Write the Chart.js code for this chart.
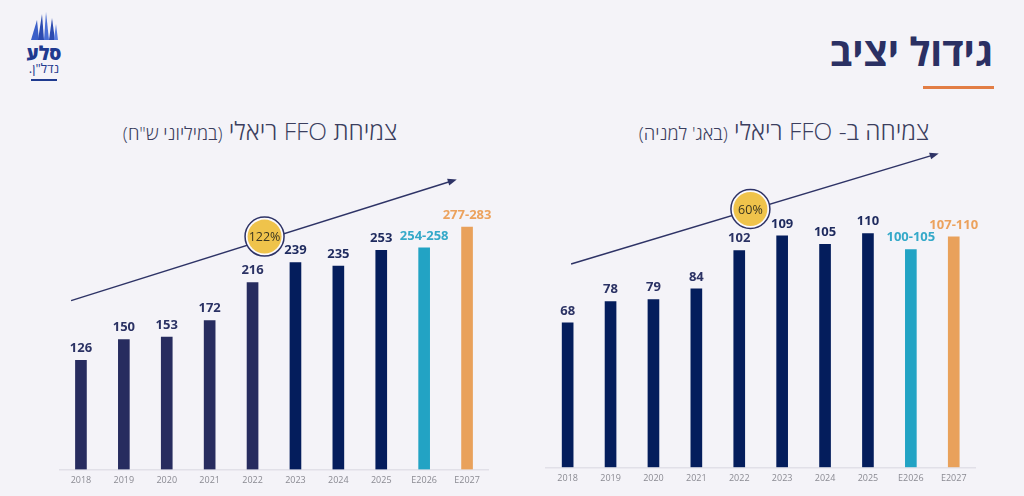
<!DOCTYPE html>
<html lang="he">
<head>
<meta charset="utf-8">
<title>גידול יציב</title>
<script src="https://cdn.jsdelivr.net/npm/chart.js@4.4.1/dist/chart.umd.min.js"></script>
<style>
  html, body { margin: 0; padding: 0; }
  body {
    width: 1024px; height: 496px; overflow: hidden; position: relative;
    background: #f4f3f8;
    font-family: "Open Sans", "Liberation Sans", "DejaVu Sans", sans-serif;
  }
  .title {
    position: absolute; right: 31px; top: 24px;
    font-size: 39px; font-weight: 700; color: #2b3063; direction: rtl;
  }
  .underline {
    position: absolute; left: 923px; top: 86px; width: 71px; height: 3px;
    background: #e27d45;
  }
  .subtitle {
    position: absolute; top: 114px; direction: rtl; white-space: nowrap;
    font-size: 24.5px; font-weight: 300; color: #3b3e5e; transform: translateX(-50%);
  }
  .subtitle small { font-size: 18.5px; }
  .box { position: absolute; top: 140px; height: 356px; }
  .logo { position: absolute; left: 24px; top: 10px; width: 40px; text-align: center; direction: rtl; color: #1f3a8f; }
  .logo .big { font-size: 19px; font-weight: 800; line-height: 16px; }
  .logo .small { font-size: 13px; line-height: 15px; }
</style>
</head>
<body>
<div class="logo">
  <svg width="30" height="30" viewBox="0 0 30 30">
    <polygon points="2,30 8,10 10,30" fill="#3a5fc8"/>
    <polygon points="9,30 13,4 15,30" fill="#2c4bb0"/>
    <polygon points="15,30 17,2 20,30" fill="#4a6fd6"/>
    <polygon points="20,30 23,8 26,30" fill="#2c4bb0"/>
    <polygon points="25,30 27,14 29,30" fill="#5b7ee0"/>
  </svg>
  <div class="big">סלע</div>
  <div class="small">נדל"ן.</div>
  <div style="height:2px;width:26px;margin:3px auto 0;background:#1f3a8f;"></div>
</div>
<div class="title">גידול יציב</div>
<div class="underline"></div>
<div class="subtitle" style="left:260px;">צמיחת FFO ריאלי <small>(במיליוני ש"ח)</small></div>
<div class="subtitle" style="left:784px;">צמיחה ב- FFO ריאלי <small>(באג' למניה)</small></div>

<div class="box" style="left:40px;width:470px;"><canvas id="ffo-total"></canvas></div>
<div class="box" style="left:520px;width:480px;"><canvas id="ffo-share"></canvas></div>

<script>
const years = ['2018', '2019', '2020', '2021', '2022', '2023', '2024', '2025', 'E2026', 'E2027'];

// FFO total (NIS millions); forecast bars at range midpoints
const totalValues = [126, 150, 153, 172, 216, 239, 235, 253, 256, 280];
const totalLabels = ['126', '150', '153', '172', '216', '239', '235', '253', '254-258', '277-283'];

// FFO per share (agorot)
const shareValues = [68, 78, 79, 84, 102, 109, 105, 110, 102.5, 108.5];
const shareLabels = ['68', '78', '79', '84', '102', '109', '105', '110', '100-105', '107-110'];

const NAVY = '#041d5c';
const NAVY_OLD = '#272c5f';
const CYAN = '#22a3c4';
const ORANGE = '#e9a15b';

const totalColors = [NAVY_OLD, NAVY_OLD, NAVY_OLD, NAVY_OLD, NAVY_OLD, NAVY, NAVY, NAVY, CYAN, ORANGE];
const shareColors = [NAVY, NAVY, NAVY, NAVY, NAVY, NAVY, NAVY, NAVY, CYAN, ORANGE];
const labelColors = ['#2b3264', '#2b3264', '#2b3264', '#2b3264', '#2b3264', '#1e2a5e', '#1e2a5e', '#1e2a5e', '#35a9c9', '#eca25d'];

// growth arrow + badge, given in (category index, value) terms
const decorPlugin = {
  id: 'decor',
  afterDatasetsDraw(chart, args, opts) {
    const { ctx, scales: { x, y } } = chart;
    const meta = chart.getDatasetMeta(0);

    // value labels over the bars
    ctx.save();
    ctx.font = '700 13px "Open Sans", "Liberation Sans", sans-serif';
    ctx.textAlign = 'center';
    ctx.textBaseline = 'middle';
    meta.data.forEach((bar, i) => {
      ctx.fillStyle = labelColors[i];
      ctx.fillText(opts.labels[i], bar.x, bar.y - 12);
    });

    // arrow
    const x1 = x.getPixelForValue(opts.from[0]), y1 = y.getPixelForValue(opts.from[1]);
    const x2 = x.getPixelForValue(opts.to[0]), y2 = y.getPixelForValue(opts.to[1]);
    const ang = Math.atan2(y2 - y1, x2 - x1);
    ctx.strokeStyle = '#2e3366';
    ctx.fillStyle = '#2e3366';
    ctx.lineWidth = 1.5;
    ctx.beginPath();
    ctx.moveTo(x1, y1);
    ctx.lineTo(x2 - 6 * Math.cos(ang), y2 - 6 * Math.sin(ang));
    ctx.stroke();
    ctx.beginPath();
    ctx.moveTo(x2, y2);
    ctx.lineTo(x2 - 9 * Math.cos(ang) + 3.5 * Math.sin(ang), y2 - 9 * Math.sin(ang) - 3.5 * Math.cos(ang));
    ctx.lineTo(x2 - 9 * Math.cos(ang) - 3.5 * Math.sin(ang), y2 - 9 * Math.sin(ang) + 3.5 * Math.cos(ang));
    ctx.closePath();
    ctx.fill();

    // badge
    const bx = x.getPixelForValue(opts.badge[0]), by = y.getPixelForValue(opts.badge[1]);
    ctx.beginPath();
    ctx.arc(bx, by, 19.5, 0, Math.PI * 2);
    ctx.fillStyle = '#fbfafd';
    ctx.fill();
    ctx.lineWidth = 1.5;
    ctx.strokeStyle = '#2e3366';
    ctx.stroke();
    ctx.beginPath();
    ctx.arc(bx, by, 17, 0, Math.PI * 2);
    ctx.fillStyle = '#efc34b';
    ctx.fill();
    ctx.fillStyle = '#3a3520';
    ctx.font = '400 12.5px "Open Sans", "Liberation Sans", sans-serif';
    ctx.fillText(opts.badgeText, bx, by + 1);
    ctx.restore();
  }
};

function makeChart(id, values, colors, labels, yMax, padding, decor) {
  return new Chart(document.getElementById(id), {
    type: 'bar',
    data: {
      labels: years,
      datasets: [{
        data: values,
        backgroundColor: colors,
        barThickness: 11,
        borderWidth: 0
      }]
    },
    options: {
      responsive: true,
      maintainAspectRatio: false,
      animation: false,
      layout: { padding: padding },
      plugins: {
        legend: { display: false },
        tooltip: { enabled: false },
        decor: Object.assign({ labels: labels }, decor)
      },
      scales: {
        x: {
          grid: { display: false, drawTicks: false },
          border: { display: true, color: '#e1e0e8', width: 1.5 },
          ticks: {
            padding: 6,
            color: '#8a8a92',
            font: { size: 9, family: '"Open Sans", "Liberation Sans", sans-serif' }
          }
        },
        y: { display: false, min: 0, max: yMax }
      }
    },
    plugins: [decorPlugin]
  });
}

makeChart('ffo-total', totalValues, totalColors, totalLabels, 369,
  { left: 19.5, right: 21.5, top: 10, bottom: 3.7 },
  { from: [-0.23, 195], to: [8.76, 335], badge: [4.28, 269], badgeText: '122%' });

makeChart('ffo-share', shareValues, shareColors, shareLabels, 149.4,
  { left: 26.2, right: 24.8, top: 10, bottom: 5.9 },
  { from: [0.08, 95.7], to: [8.65, 147.8], badge: [4.26, 121.6], badgeText: '60%' });
</script>
</body>
</html>
